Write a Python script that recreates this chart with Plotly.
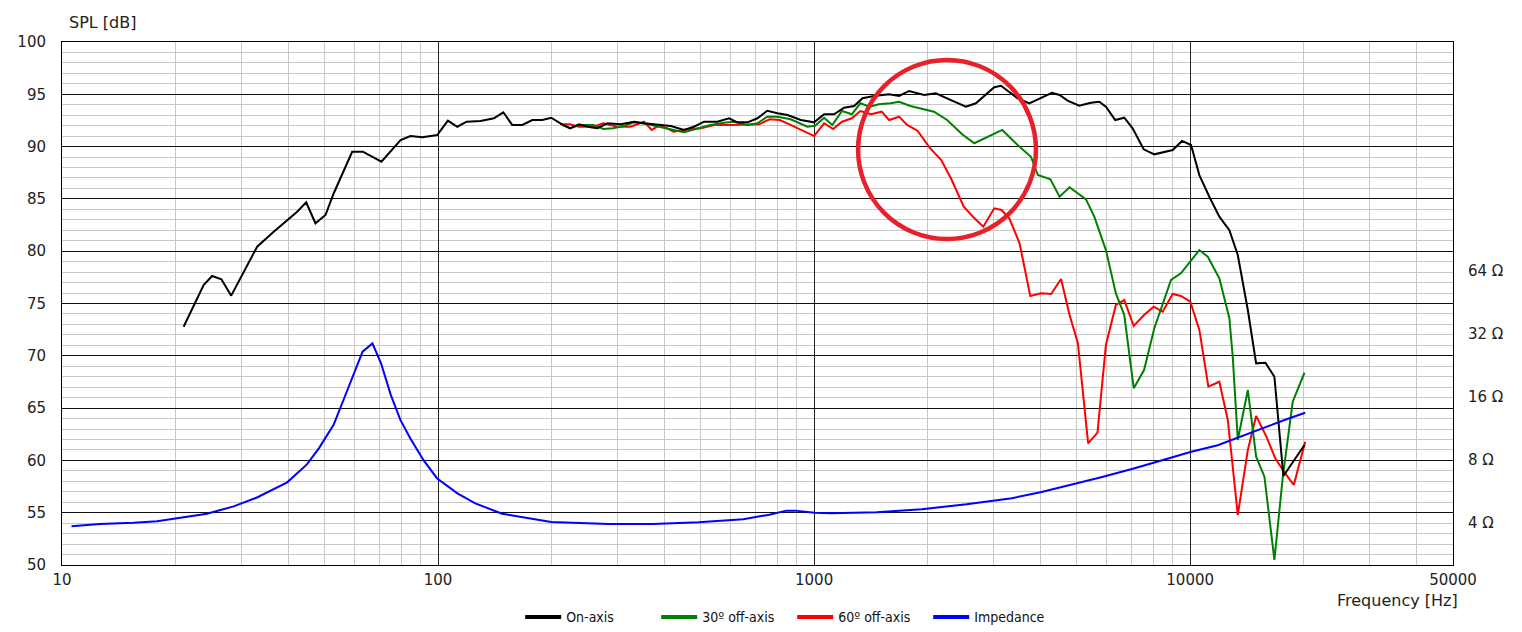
import numpy as np
import plotly.graph_objects as go

# ---------------- data ----------------
freq_on = [21.06, 23.8, 25.07, 26.54, 28.18, 33.03, 36.56, 42.2, 44.6, 47.2, 50.2, 52.8, 59.1, 63.1, 70.7,
           79.5, 84.5, 90.8, 99.5, 106.2, 112.5, 119.1, 129.7, 140.8, 149.1, 157.5, 167.5, 178.1, 189.3, 200,
           211.6, 224.3, 237, 254.6, 265.3, 282, 306, 332, 353, 383, 416, 451, 479, 510, 553, 594, 625, 665,
           707, 751, 799, 850, 922, 1000, 1063, 1130, 1202, 1278, 1345, 1444, 1583, 1683, 1789, 1962, 2108,
           2311, 2533, 2693, 3013, 3140, 3477, 3734, 4093, 4292, 4494, 4722, 5070, 5446, 5732, 5970, 6322,
           6680, 7031, 7524, 8030, 8987, 9515, 10055, 10580, 11245, 11957, 12714, 13387, 14236, 14978, 15855,
           16750, 17700, 20137]
spl_on = [72.78, 76.77, 77.63, 77.31, 75.75, 80.43, 81.86, 83.78, 84.67, 82.67, 83.46, 85.54, 89.51, 89.51, 88.56,
          90.63, 91.01, 90.89, 91.11, 92.48, 91.9, 92.38, 92.45, 92.71, 93.28, 92.07, 92.07, 92.54, 92.54, 92.76,
          92.23, 91.75, 92.13, 91.84, 91.75, 92.23, 92.13, 92.38, 92.23, 92.07, 91.97, 91.59, 91.9, 92.38, 92.38,
          92.71, 92.32, 92.32, 92.71, 93.43, 93.18, 93.02, 92.54, 92.32, 93.09, 93.09, 93.72, 93.88, 94.62, 94.84,
          95.0, 94.84, 95.32, 94.93, 95.1, 94.45, 93.81, 94.14, 95.67, 95.82, 94.62, 94.14, 94.77, 95.15, 94.93,
          94.39, 93.91, 94.2, 94.29, 93.81, 92.54, 92.76, 91.75, 89.74, 89.26, 89.67, 90.54, 90.15, 87.28, 85.21,
          83.3, 82.0, 79.64, 74.38, 69.28, 69.34, 68.0, 58.51, 61.47]

freq_30 = [214, 225, 237, 259, 275, 292, 313, 332, 359, 390, 423, 451, 489, 530, 576, 612, 665, 707, 751, 799,
           866, 960, 1006, 1063, 1118, 1186, 1260, 1327, 1404, 1486, 1597, 1683, 1803, 1962, 2083, 2258, 2475,
           2667, 2946, 3165, 3477, 3773, 3936, 4250, 4494, 4779, 5285, 5560, 5970, 6346, 6680, 7080, 7539, 8030,
           8895, 9450, 10580, 11140, 11957, 12714, 12980, 13387, 14236, 14978, 15760, 16750, 17638, 18740, 20137]
spl_30 = [92.07, 91.75, 92.07, 92.07, 91.68, 91.75, 92.0, 92.32, 92.16, 91.9, 91.59, 91.37, 91.75, 92.07, 92.29,
          92.38, 92.07, 92.23, 92.86, 92.86, 92.61, 91.9, 92.0, 92.76, 92.07, 93.4, 93.09, 94.14, 93.81, 94.04,
          94.14, 94.29, 93.88, 93.59, 93.34, 92.54, 91.18, 90.32, 91.04, 91.59, 90.15, 89.03, 87.28, 86.87, 85.21,
          86.11, 84.96, 83.3, 80.11, 75.97, 73.9, 66.89, 68.64, 72.63, 77.25, 77.89, 80.11, 79.47, 77.41, 73.59,
          69.9, 61.95, 66.73, 60.35, 58.44, 50.48, 58.44, 65.61, 68.38]

freq_60 = [211, 224, 237, 259, 275, 300, 325, 353, 370, 390, 423, 461, 500, 542, 600, 665, 714, 762, 810, 866,
           922, 1000, 1063, 1124, 1186, 1260, 1327, 1418, 1512, 1583, 1683, 1767, 1884, 2028, 2178, 2311, 2500,
           2645, 2818, 3013, 3150, 3305, 3519, 3757, 4014, 4270, 4536, 4779, 5029, 5355, 5670, 5970, 6346, 6680,
           7080, 7539, 8000, 8450, 8987, 9450, 10010, 10580, 11180, 11957, 12594, 13387, 14236, 14978, 15950,
           16840, 17758, 18860, 20230]
spl_60 = [92.13, 92.13, 91.9, 91.9, 92.23, 91.9, 91.9, 92.38, 91.59, 92.07, 91.42, 91.65, 91.75, 92.07, 92.07,
          92.07, 92.13, 92.61, 92.54, 92.07, 91.59, 91.01, 92.23, 91.68, 92.38, 92.71, 93.4, 93.09, 93.34, 92.54,
          92.86, 92.07, 91.52, 89.9, 88.72, 86.97, 84.25, 83.3, 82.34, 84.1, 83.94, 83.15, 80.76, 75.72, 75.97,
          75.91, 77.34, 73.9, 71.2, 61.63, 62.65, 71.03, 74.86, 75.33, 72.85, 73.9, 74.69, 74.22, 75.91, 75.72,
          75.17, 72.47, 67.05, 67.52, 63.86, 54.78, 61.0, 64.25, 62.27, 60.2, 58.92, 57.65, 61.79]

freq_imp = [10.6, 12.6, 15.5, 17.9, 21.5, 24.3, 28.6, 33.0, 39.7, 44.8, 48.2, 52.8, 55.6, 59.1, 63.0, 66.9, 70.5,
            74.9, 79.4, 84.4, 91.6, 99.3, 112.6, 125.6, 148, 200, 284, 373, 493, 648, 760, 844, 890, 1004, 1112,
            1467, 1933, 2544, 3357, 4000, 4700, 5800, 7080, 8150, 10070, 11840, 14820, 17810, 20230]
imp_ohm = [3.85, 3.94, 4.0, 4.07, 4.27, 4.42, 4.79, 5.28, 6.24, 7.6, 9.07, 11.8, 14.9, 19.6, 26.3, 28.8, 23.2,
           16.3, 12.4, 10.1, 7.94, 6.53, 5.53, 4.95, 4.42, 4.03, 3.94, 3.94, 4.02, 4.16, 4.37, 4.57, 4.57, 4.47,
           4.44, 4.49, 4.64, 4.9, 5.24, 5.6, 6.0, 6.6, 7.27, 7.85, 8.74, 9.39, 10.96, 12.39, 13.43]

series_names = ["On-axis", "30º off-axis", "60º off-axis", "Impedance"]
series_colors = ["#000000", "#008000", "#ff0000", "#0000ff"]

x_ticks = [10, 100, 1000, 10000, 50000]
x_minor = [m * 10 ** e for e in range(1, 5) for m in range(2, 10) if m * 10 ** e < 50000]
y_ticks = list(range(50, 101, 5))
z_ticks = [4, 8, 16, 32, 64]
z_labels = [f"{z} Ω" for z in z_ticks]

# ---------------- figure ----------------
fig = go.Figure()
common = dict(mode="lines", hoverinfo="skip", showlegend=False)
fig.add_trace(go.Scatter(x=freq_60, y=spl_60, line=dict(color=series_colors[2], width=2), **common))
fig.add_trace(go.Scatter(x=freq_30, y=spl_30, line=dict(color=series_colors[1], width=2), **common))
fig.add_trace(go.Scatter(x=freq_on, y=spl_on, line=dict(color=series_colors[0], width=2), **common))
fig.add_trace(go.Scatter(x=freq_imp, y=imp_ohm, yaxis="y2", line=dict(color=series_colors[3], width=2), **common))

# legend entries (thicker sample lines, as in the reference)
for name, color in zip(series_names, series_colors):
    fig.add_trace(go.Scatter(x=[None], y=[None], mode="lines", name=name,
                             line=dict(color=color, width=4), hoverinfo="skip"))

tick_font = dict(family="DejaVu Sans, sans-serif", size=15, color="#222222")
title_font = dict(family="DejaVu Sans, sans-serif", size=16, color="#222222")

fig.update_layout(
    width=1514, height=624,
    margin=dict(l=54, r=69, t=34, b=67, autoexpand=False),
    paper_bgcolor="white", plot_bgcolor="white",
    font=tick_font,
    showlegend=True,
    xaxis=dict(type="log", range=[1, np.log10(50000)], tickvals=x_ticks, ticktext=[str(v) for v in x_ticks],
               showgrid=True, gridcolor="#222222", gridwidth=1, zeroline=False,
               showline=True, linecolor="#000000", linewidth=1, mirror=True, ticks="",
               ticklabelstandoff=1, tickfont=tick_font,
               minor=dict(tickvals=x_minor, showgrid=True, gridcolor="#c8c8c8", gridwidth=1, ticks="")),
    yaxis=dict(range=[50, 100], tickvals=y_ticks, showgrid=True, gridcolor="#111111", gridwidth=1,
               zeroline=False, showline=True, linecolor="#000000", linewidth=1, mirror=True, ticks="",
               ticklabelstandoff=12, tickfont=tick_font,
               minor=dict(dtick=1, showgrid=True, gridcolor="#c8c8c8", gridwidth=1, ticks="")),
    yaxis2=dict(overlaying="y", side="right", type="log", range=[0.4, 2.9], tickvals=z_ticks, ticktext=z_labels,
                showgrid=False, zeroline=False, showline=False, ticks="", ticklabelstandoff=14,
                tickfont=tick_font),
    legend=dict(orientation="h", x=0.3294, xanchor="left", y=-0.1, yanchor="middle",
                entrywidth=85, itemwidth=36,
                font=dict(family="DejaVu Sans Condensed, DejaVu Sans, sans-serif", size=14, color="#111111"),
                bgcolor="rgba(0,0,0,0)", traceorder="normal"),
    shapes=[dict(type="circle", xref="paper", yref="paper", x0=0.5723, x1=0.7002, y0=0.6233, y1=0.9656,
                 line=dict(color="#e8202a", width=4.5), layer="above")],
    annotations=[
        dict(text="SPL [dB]", xref="paper", yref="paper", x=0.0036, y=1.038, xanchor="left", yanchor="middle",
             showarrow=False, font=title_font),
        dict(text="Frequency [Hz]", xref="paper", yref="paper", x=1.005, y=-0.067, xanchor="right",
             yanchor="middle", showarrow=False, font=title_font),
    ],
)

fig.write_html("out.html")
